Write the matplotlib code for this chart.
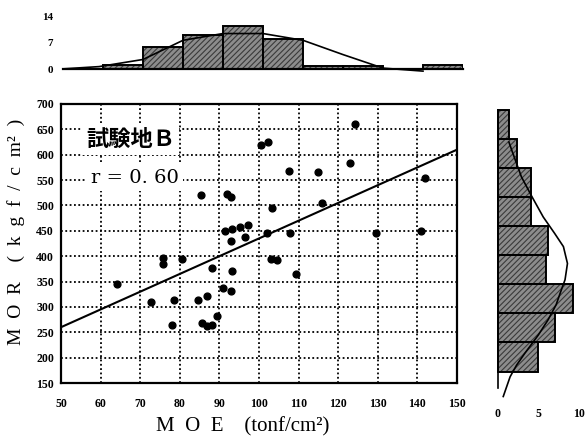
"""MOR vs MOE scatter for 試験地B, with marginal histograms on top and right."""
import matplotlib
matplotlib.use("Agg")
import matplotlib.pyplot as plt

plt.rcParams["font.family"] = ["Liberation Serif", "DejaVu Serif"]
plt.rcParams["hatch.linewidth"] = 0.8

# ── scatter data (MOE tonf/cm², MOR kgf/cm²) ────────────────────────────
MOE = [64.2, 72.7, 75.8, 75.8, 78.6, 78.0, 80.6, 84.7, 85.3, 85.6,
       86.8, 86.8, 88.1, 88.1, 89.3, 90.8, 91.3, 92.0, 93.0, 92.9,
       93.1, 93.0, 93.2, 95.3, 96.4, 97.2, 100.4, 102.3, 102.1, 103.3,
       103.0, 104.5, 107.7, 107.9, 109.4, 114.8, 116.0, 123.1, 124.3, 129.6,
       141.0, 141.8]
MOR = [345, 310, 397, 385, 313, 265, 395, 313, 521, 269,
       263, 322, 265, 377, 283, 337, 450, 522, 516, 331,
       371, 430, 453, 458, 438, 462, 619, 625, 446, 494,
       395, 392, 568, 446, 364, 565, 505, 583, 660, 445,
       449, 555]

# regression line end points
REG_X = [50, 150]
REG_Y = [260, 610]

# ── top histogram (MOE) ─────────────────────────────────────────────────
TOP_BIN_LEFT = [50, 60, 70, 80, 90, 100, 110, 120, 130, 140]
TOP_COUNTS = [0, 1, 6, 9, 11.5, 8, 0.8, 0.8, 0, 1]
TOP_CURVE_X = [50, 59, 70, 80, 90, 100, 110, 120, 130, 140]
TOP_CURVE_Y = [0.1, 0.7, 2.6, 7.7, 9.5, 9.5, 7.7, 3.9, 0.3, -0.5]
TOP_TICKS = [0, 7, 14]

# ── right histogram (MOR) ───────────────────────────────────────────────
RIGHT_BIN_LOW = [250, 300, 350, 400, 450, 500, 550, 600, 650]
RIGHT_COUNTS = [5, 7, 9.3, 6, 6.2, 4.1, 4.1, 2.4, 1.4]
RIGHT_CURVE_C = [1.35, 1.7, 2.9, 4.2, 5.6, 7.0, 8.1, 8.6, 8.3, 7.7,
                 7.2, 6.2, 5.0, 3.3, 2.3, 1.5, 0.65]
RIGHT_CURVE_Y = [645, 631, 585, 551, 516, 488, 465, 436, 408, 385,
                 365, 339, 313, 281, 261, 241, 207]
RIGHT_TICKS = [0, 5, 10]

TICK_SIZE = 8.5
BAR_FILL = "#8c8c8c"
HATCH_COL = "#3a3a3a"


def hatched_bars(ax, horizontal, pos, vals, size):
    if horizontal:
        ax.barh(pos, vals, height=size, left=0, align="edge",
                color=BAR_FILL, edgecolor=HATCH_COL, hatch="//////", lw=0)
        ax.barh(pos, vals, height=size, left=0, align="edge",
                fill=False, edgecolor="black", lw=1.4)
    else:
        ax.bar(pos, vals, width=size, align="edge",
               color=BAR_FILL, edgecolor=HATCH_COL, hatch="//////", lw=0)
        ax.bar(pos, vals, width=size, align="edge",
               fill=False, edgecolor="black", lw=1.4)


fig = plt.figure(figsize=(5.85, 4.36), dpi=100)

# ── main scatter ────────────────────────────────────────────────────────
ax = fig.add_axes([61 / 585, 53 / 436, 396 / 585, 279 / 436])
ax.set_xlim(50, 150)
ax.set_ylim(150, 700)
ax.set_xticks(range(50, 151, 10))
ax.set_yticks(range(150, 701, 50))
ax.set_axisbelow(True)
ax.grid(True, color="black", lw=1.3, ls=(0, (1, 1.4)))
ax.tick_params(length=0)
ax.tick_params(axis="x", pad=11)
ax.tick_params(axis="y", pad=5)
for lab in ax.get_xticklabels() + ax.get_yticklabels():
    lab.set_fontsize(TICK_SIZE)
    lab.set_fontweight("bold")
for sp in ax.spines.values():
    sp.set_linewidth(1.6)

ax.scatter(MOE, MOR, s=24, color="black", zorder=3)
ax.plot(REG_X, REG_Y, color="black", lw=1.5, zorder=3)

box = dict(facecolor="white", edgecolor="none", pad=3)
ax.text(56.3, 631, "試験地Ｂ", family=["Noto Sans CJK JP", "DejaVu Sans"],
        fontsize=16, fontweight="bold", va="center", ha="left", bbox=box)
ax.text(57.7, 555, "r = 0. 60", family=["DejaVu Serif"], fontsize=14,
        va="center", ha="left", bbox=box)

fig.text(243 / 585, 1 - 427 / 436,
         "M\u2002O\u2002E\u2003(tonf/cm²)",
         fontsize=15, ha="center", va="center")
fig.text(16 / 585, 1 - 232 / 436,
         "M\u2002O\u2002R\u2003(\u2002k\u2002g\u2002f\u2002/\u2002c\u2002m²\u2002)",
         fontsize=14, rotation=90, ha="center", va="center")

# ── top histogram ───────────────────────────────────────────────────────
axt = fig.add_axes([63 / 585, 1 - 73 / 436, 400 / 585, 59 / 436])
axt.set_xlim(50, 150)
axt.set_ylim(-1, 14.7)
hatched_bars(axt, False, TOP_BIN_LEFT, TOP_COUNTS, 10)
axt.plot(TOP_CURVE_X, TOP_CURVE_Y, color="black", lw=1.2)
for side in ("top", "right", "left"):
    axt.spines[side].set_visible(False)
axt.spines["bottom"].set_position(("data", 0))
axt.spines["bottom"].set_linewidth(1.6)
axt.set_xticks([])
axt.set_yticks(TOP_TICKS)
axt.set_yticklabels([str(t) for t in TOP_TICKS], fontsize=8, fontweight="bold")
axt.tick_params(length=0, pad=7)
axt.patch.set_alpha(0)

# ── right histogram ─────────────────────────────────────────────────────
axr = fig.add_axes([490 / 585, 36 / 436, 92 / 585, 294 / 436])
axr.set_xlim(-0.99, 10.4)
axr.set_ylim(201, 707)
hatched_bars(axr, True, RIGHT_BIN_LOW, RIGHT_COUNTS, 50)
axr.plot(RIGHT_CURVE_C, RIGHT_CURVE_Y, color="black", lw=1.2)
for side in ("top", "right", "bottom"):
    axr.spines[side].set_visible(False)
axr.spines["left"].set_position(("data", 0))
axr.spines["left"].set_bounds(222, 700)
axr.spines["left"].set_linewidth(1.2)
axr.set_yticks([])
axr.set_xticks(RIGHT_TICKS)
axr.set_xticklabels([str(t) for t in RIGHT_TICKS], fontsize=8.5, fontweight="bold")
axr.tick_params(length=0, pad=6)
axr.patch.set_alpha(0)

fig.savefig("out.png", dpi=100, facecolor="white")
